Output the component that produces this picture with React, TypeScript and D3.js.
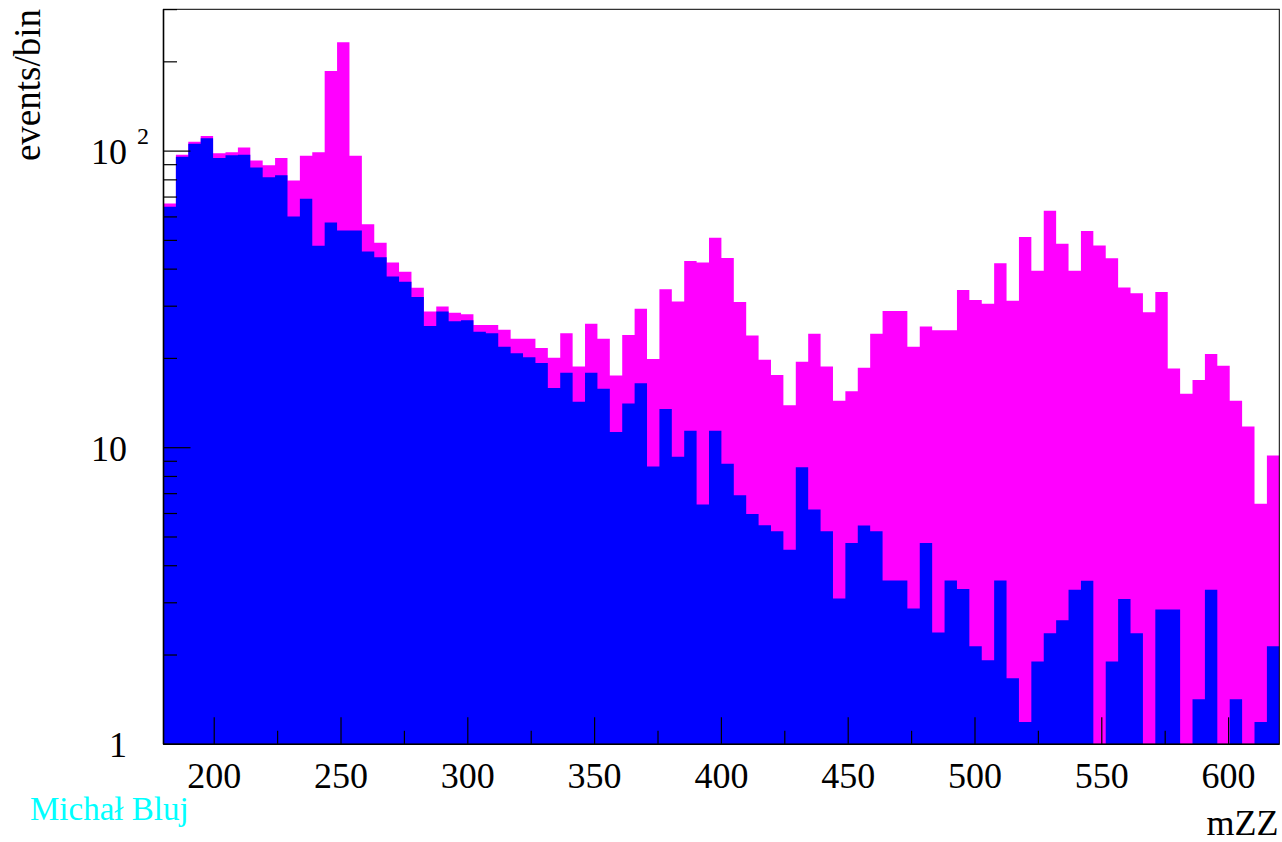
import React from "react";
import * as d3 from "d3";

// Histogram binning: 90 equal bins over mZZ in [180, 620]
const X_MIN = 180;
const X_MAX = 620;
const N_BINS = 90;

// Signal + background (magenta), events per bin
const totalCounts = [
  66.6, 97.2, 107.5, 112.4, 98.3, 99.1, 102.8, 93.0, 89.6, 94.8,
  79.6, 96.5, 99.1, 186.4, 233.0, 96.5, 56.7, 49.1, 42.1, 39.2,
  34.6, 28.8, 29.9, 28.5, 28.2, 25.9, 25.9, 25.0, 23.3, 23.3,
  21.7, 20.1, 24.3, 18.8, 26.2, 23.3, 17.5, 24.0, 29.4, 19.9,
  34.2, 31.1, 42.6, 42.1, 51.0, 43.6, 31.0, 23.9, 19.8, 17.6,
  13.9, 19.5, 24.2, 18.8, 14.4, 15.5, 18.6, 24.2, 28.9, 28.9,
  21.9, 25.6, 24.9, 24.9, 34.0, 31.5, 30.6, 41.9, 31.3, 51.3,
  39.5, 62.9, 48.7, 39.5, 53.8, 48.1, 43.5, 34.7, 33.2, 28.6,
  33.5, 18.5, 15.2, 16.9, 20.7, 18.9, 14.4, 11.8, 6.47, 9.42,
];

// Background only (blue), events per bin
const backgroundCounts = [
  64.9, 95.8, 105.9, 110.4, 94.8, 96.9, 97.2, 88.0, 81.7, 82.9,
  60.2, 69.1, 48.0, 57.4, 54.0, 54.0, 45.9, 43.9, 37.8, 36.3,
  32.2, 25.7, 28.8, 26.7, 26.9, 24.6, 24.3, 21.9, 20.8, 20.2,
  19.3, 15.9, 17.9, 14.3, 17.9, 15.8, 11.3, 14.1, 16.5, 8.64,
  13.5, 9.33, 11.4, 6.43, 11.4, 8.83, 6.91, 5.98, 5.48, 5.23,
  4.53, 8.59, 6.19, 5.23, 3.10, 4.77, 5.47, 5.23, 3.57, 3.57,
  2.87, 4.77, 2.38, 3.57, 3.34, 2.14, 1.92, 3.57, 1.67, 1.19,
  1.90, 2.37, 2.62, 3.32, 3.56, 0, 1.90, 3.09, 2.37, 0,
  2.85, 2.85, 0, 1.42, 3.32, 0, 1.42, 0, 1.19, 2.14,
];

const xMajorTicks = [200, 250, 300, 350, 400, 450, 500, 550, 600];
const xMinorTicks = [225, 275, 325, 375, 425, 475, 525, 575];
const yMajorTicks = [1, 10, 100];
const yMinorTicks = [2, 3, 4, 5, 6, 7, 8, 9, 20, 30, 40, 50, 60, 70, 80, 90, 200, 300];

const X_TITLE = "mZZ";
const Y_TITLE = "events/bin";
const AUTHOR = "Michał Bluj";

const W = 1282;
const H = 842;
const FRAME = { left: 163.5, right: 1279.3, top: 9.3, bottom: 744.3 };
const FONT = "'Liberation Serif', 'Times New Roman', serif";

export default function App() {
  const x = d3.scaleLinear().domain([X_MIN, X_MAX]).range([FRAME.left, FRAME.right]);
  const y = d3.scaleLog().domain([1, 300.7]).range([FRAME.bottom, FRAME.top]).clamp(true);

  const binWidth = (X_MAX - X_MIN) / N_BINS;
  const toSteps = (vals: number[]) => {
    const pts = vals.map((v, i) => [X_MIN + i * binWidth, v] as [number, number]);
    pts.push([X_MAX, vals[vals.length - 1]]);
    return pts;
  };

  const area = d3
    .area<[number, number]>()
    .x((d) => x(d[0]))
    .y0(y(1))
    .y1((d) => y(Math.max(d[1], 1)))
    .curve(d3.curveStepAfter);

  const totalPath = area(toSteps(totalCounts)) || "";
  const bgPath = area(toSteps(backgroundCounts)) || "";

  const majorLen = 27;
  const minorLen = 13.5;

  return (
    <div style={{ position: "fixed", left: 0, top: 0 }}>
      <svg width={W} height={H} style={{ display: "block", background: "#fff" }}>
        <path d={totalPath} fill="#ff00ff" />
        <path d={bgPath} fill="#0000ff" />

        {/* frame */}
        <rect
          x={FRAME.left}
          y={FRAME.top}
          width={FRAME.right - FRAME.left}
          height={FRAME.bottom - FRAME.top}
          fill="none"
          stroke="#000"
          strokeWidth={1}
        />
        <line x1={FRAME.left} x2={FRAME.left} y1={FRAME.top} y2={FRAME.bottom} stroke="#000" strokeWidth={1.6} />
        <line x1={FRAME.left} x2={FRAME.right} y1={FRAME.bottom} y2={FRAME.bottom} stroke="#000" strokeWidth={1.4} />

        {/* x ticks */}
        {xMajorTicks.map((t) => (
          <line key={"xM" + t} x1={x(t)} x2={x(t)} y1={FRAME.bottom} y2={FRAME.bottom - majorLen} stroke="#000" strokeWidth={1.2} />
        ))}
        {xMinorTicks.map((t) => (
          <line key={"xm" + t} x1={x(t)} x2={x(t)} y1={FRAME.bottom} y2={FRAME.bottom - minorLen} stroke="#000" strokeWidth={1.2} />
        ))}

        {/* y ticks */}
        {yMajorTicks.map((t) => (
          <line key={"yM" + t} x1={FRAME.left} x2={FRAME.left + majorLen} y1={y(t)} y2={y(t)} stroke="#000" strokeWidth={1.2} />
        ))}
        {yMinorTicks.map((t) => (
          <line key={"ym" + t} x1={FRAME.left} x2={FRAME.left + minorLen} y1={y(t)} y2={y(t)} stroke="#000" strokeWidth={1.2} />
        ))}

        {/* x tick labels */}
        {xMajorTicks.map((t) => (
          <text key={"xl" + t} x={x(t)} y={788} textAnchor="middle" fontFamily={FONT} fontSize={36} fill="#000">
            {t}
          </text>
        ))}

        {/* y tick labels */}
        <text x={127} y={y(1) + 13} textAnchor="end" fontFamily={FONT} fontSize={36} fill="#000">1</text>
        <text x={127} y={y(10) + 13} textAnchor="end" fontFamily={FONT} fontSize={36} fill="#000">10</text>
        <text x={127} y={y(100) + 13} textAnchor="end" fontFamily={FONT} fontSize={36} fill="#000">10</text>
        <text x={137} y={y(100) - 7.5} fontFamily={FONT} fontSize={24} fill="#000">2</text>

        {/* axis titles */}
        <text x={1278.5} y={835} textAnchor="end" fontFamily={FONT} fontSize={36} fill="#000">
          {X_TITLE}
        </text>
        <text
          transform={`translate(40, 9) rotate(-90)`}
          textAnchor="end"
          fontFamily={FONT}
          fontSize={37}
          fill="#000"
        >
          {Y_TITLE}
        </text>

        <text x={30} y={820} fontFamily={FONT} fontSize={33} fill="#00ffff">
          {AUTHOR}
        </text>
      </svg>
    </div>
  );
}
